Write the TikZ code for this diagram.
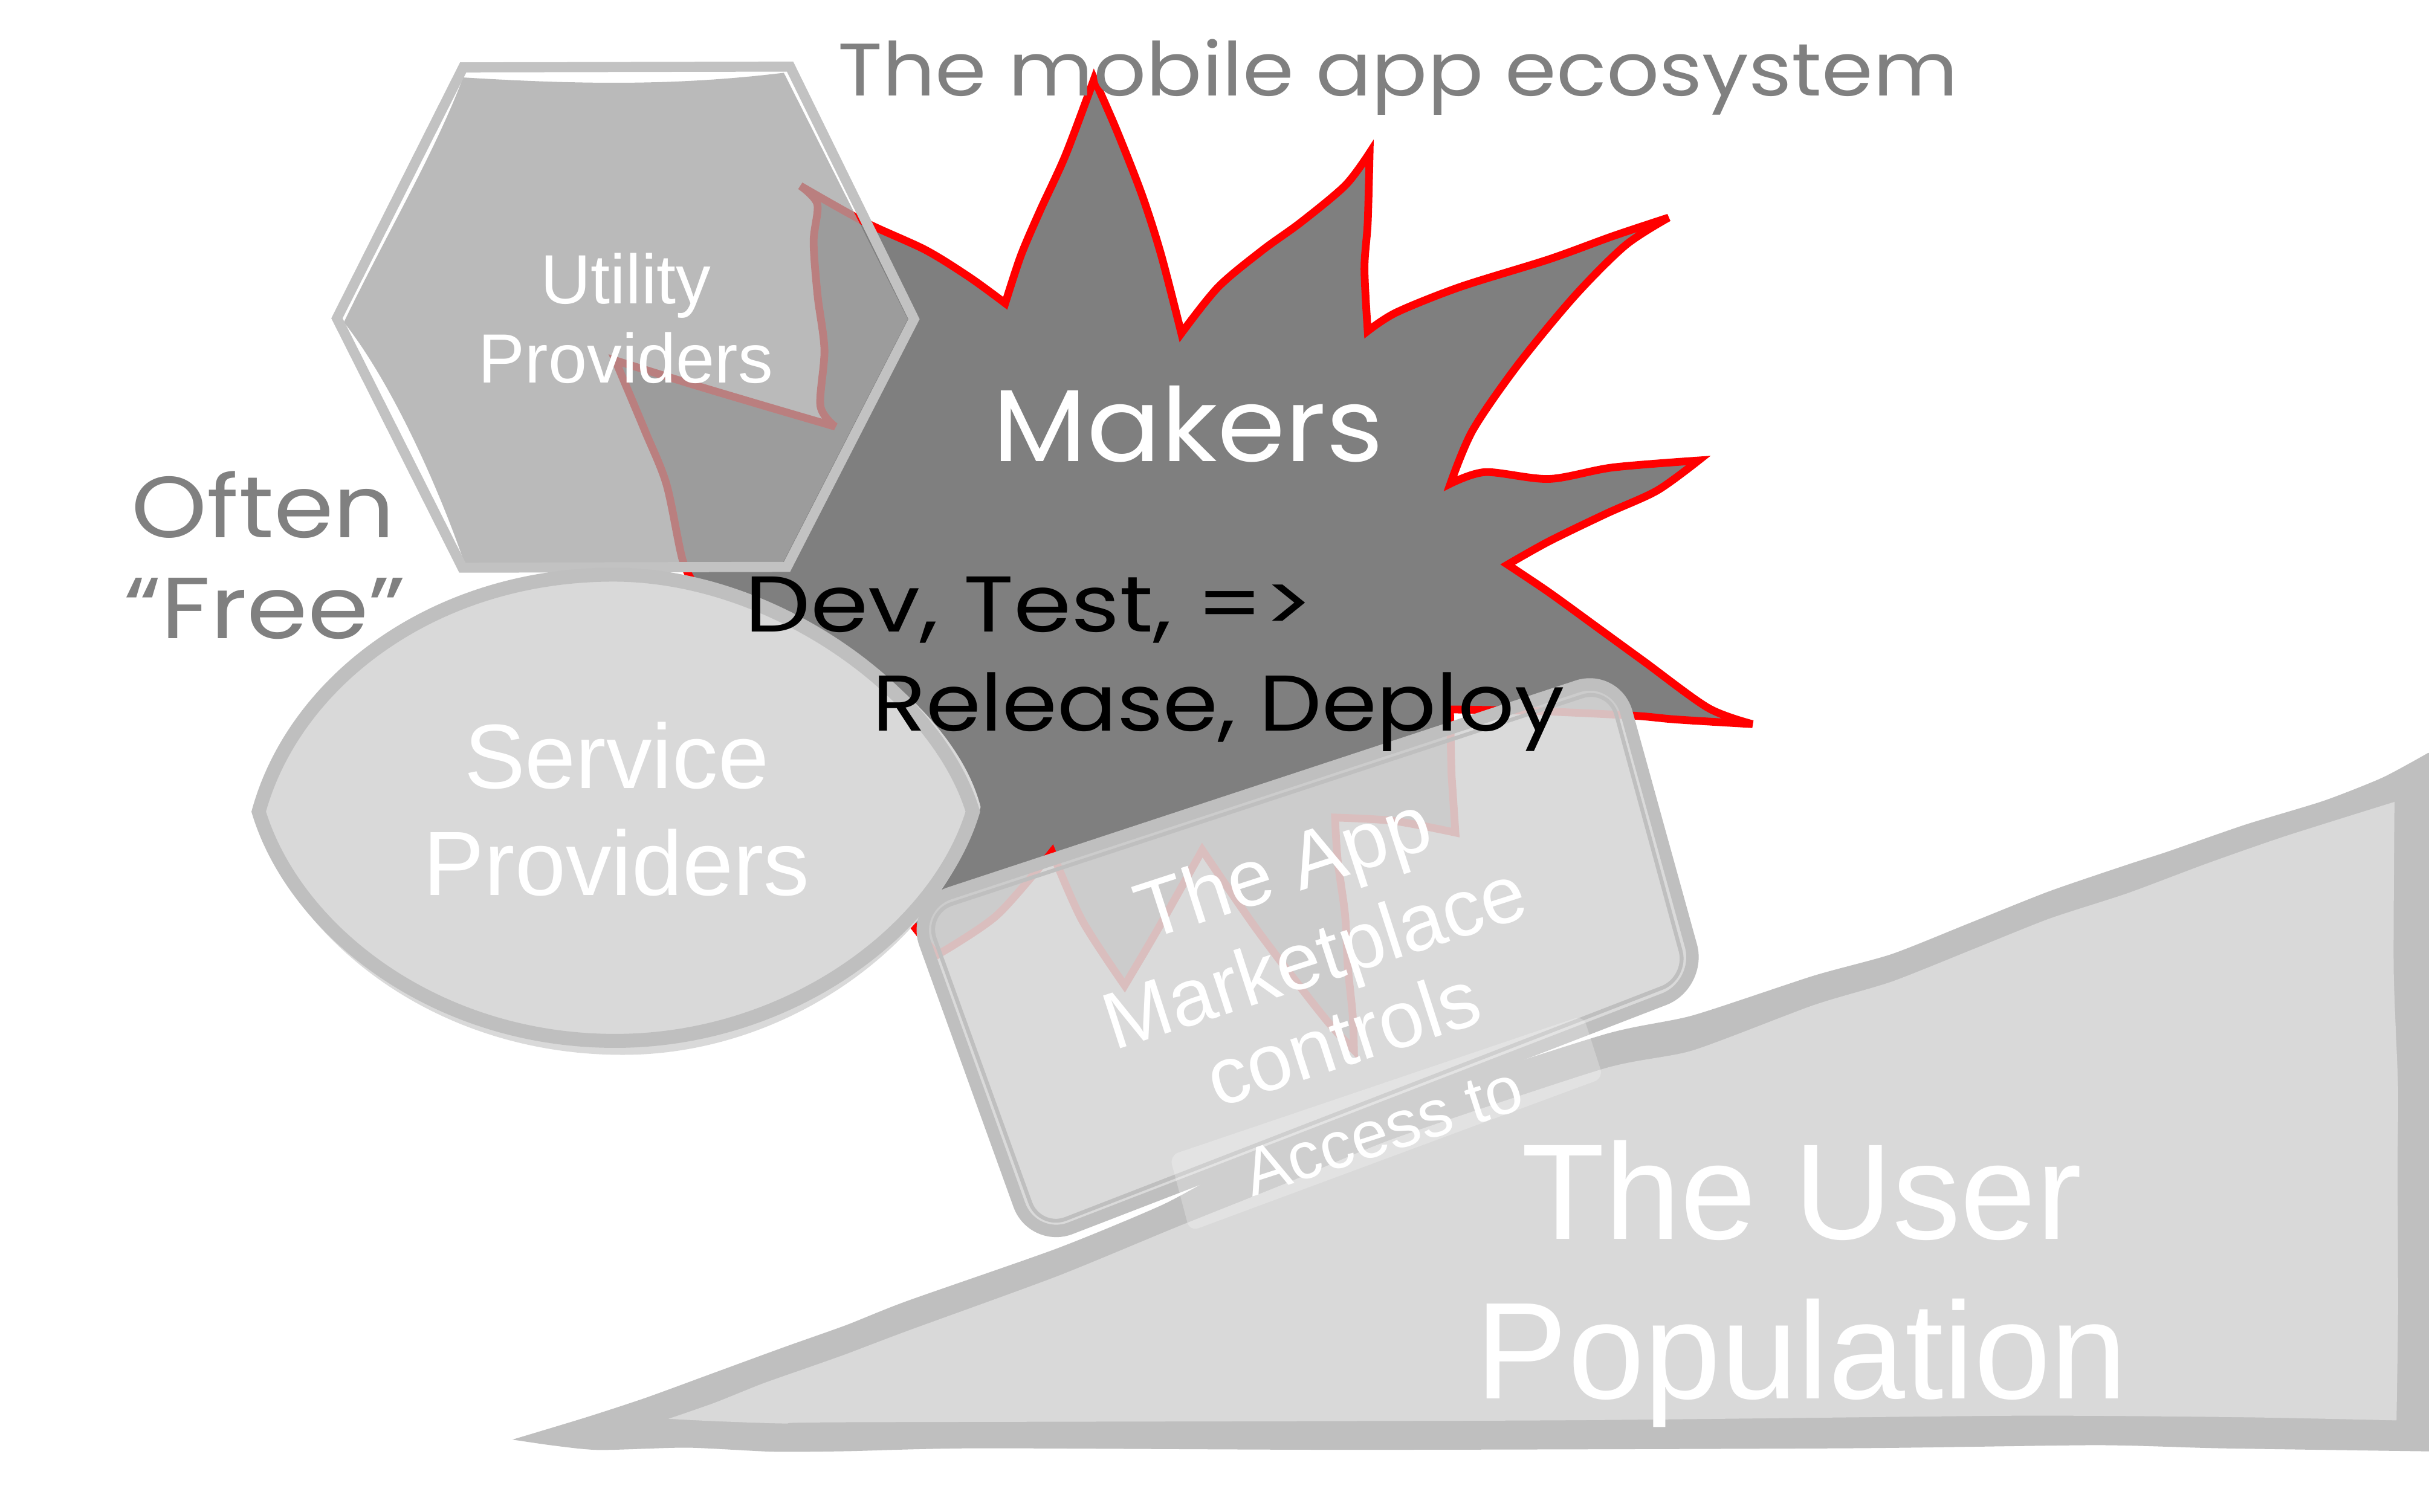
\documentclass[tikz,border=0pt]{standalone}
\usepackage{fontspec}
\usepackage{graphicx}
\setmainfont{Liberation Sans}
\newfontfamily\handfont{Poppins}
\definecolor{starfill}{HTML}{7F7F7F}
\definecolor{hexfill}{HTML}{A6A6A6}
\definecolor{hexline}{HTML}{C2C2C2}
\definecolor{softfill}{HTML}{D9D9D9}
\definecolor{softline}{HTML}{BFBFBF}
\definecolor{boxfill}{HTML}{D6D6D6}
\definecolor{inkgray}{HTML}{808080}
\tikzset{
  lbl/.style={inner sep=0pt, outer sep=0pt, anchor=base, text=white},
  handlbl/.style={inner sep=0pt, outer sep=0pt, anchor=base west},
  afs/.style={font=\fontsize{#1}{#1}\selectfont},
  hfs/.style={font=\handfont\fontsize{#1}{#1}\selectfont},
  wavy/.style={smooth, tension=0.5},
}
\begin{document}
\begin{tikzpicture}[x=1pt,y=-1pt]
\useasboundingbox (0,0) rectangle (1568,976);
\fill[white] (0,0) rectangle (1568,976);

% ---- user population wedge: outer band, then inner fill
\fill[softline] plot[smooth, tension=0.4] coordinates {(330.8,929.4) (377.8,915.2) (416.6,902.5) (461.4,886.1) (506.2,869.7) (546.2,855.5) (585.3,840) (682.3,806) (750,778) (800,752) (900,712) (1035,668) (1092.5,655.6) (1170.5,630) (1221,616) (1272,595.7) (1322.6,575.5) (1373.3,558.2) (1398.7,550) (1449.4,532.4) (1500,517) (1538,502) (1567.2,486.2)}
  -- (1580,484) -- (1580,940)
  -- plot[smooth, tension=0.4] coordinates {(1568,937) (1433,935) (1353,933) (1193,935) (873,936) (632,935) (546.2,936.9) (498.7,937.2) (443.5,934.6) (386.8,936.1) (356.9,933.2) (330.8,929.4)} -- cycle;
\fill[softfill] plot[smooth, tension=0.4] coordinates {(431.5,916) (461.4,905.6) (491.3,893.6) (521.1,883.1) (546.2,874.2) (585.3,859.4) (682.3,824) (760,792) (830,764) (900,735) (1035,690) (1092.5,678.2) (1170.5,649) (1221,633.8) (1272,613.5) (1322.6,593.2) (1373.3,576.7) (1424,557.7) (1474.7,540) (1545.7,517.7)}
  -- plot[smooth, tension=0.4] coordinates {(1545.7,517.7) (1545.2,626) (1548,702) (1547.7,753) (1548,846) (1547,917)}
  -- plot[smooth, tension=0.4] coordinates {(1547,917) (1450,915) (1300,914) (1000,917) (546.2,918.2) (506.2,919) (461.4,917.5) (431.5,916)} -- cycle;

% ---- makers burst
\filldraw[fill=starfill, draw=red, line width=5, miter limit=5]
  plot[wavy] coordinates {(516.7,120) (558.5,143.5) (597.5,161.4) (626.3,179.3) (648.9,195.8)}
  -- plot[wavy] coordinates {(648.9,195.8) (659,165) (671.4,136) (687.9,100) (706.3,50.9)}
  -- plot[wavy] coordinates {(706.3,50.9) (720.7,83.8) (737.1,125.6) (749.5,164.4) (762.6,215.2)}
  -- plot[wavy] coordinates {(762.6,215.2) (786.4,185.3) (815.1,161.4) (839.8,143.5) (868.5,119.6) (884.1,98.7)}
  -- plot[wavy] coordinates {(884.1,98.7) (882.9,143.5) (880.8,173.4) (882.9,213.7)}
  -- plot[wavy] coordinates {(882.9,213.7) (901.4,201.7) (942.4,185.3) (999.9,167.4) (1041,152.5) (1077.1,140.5)}
  -- plot[wavy] coordinates {(1077.1,140.5) (1049.2,158.4) (1016.3,191.3) (979.4,236.1) (950.6,277.9) (936.3,312.2)}
  -- plot[wavy] coordinates {(936.3,312.2) (958.9,304.8) (999.9,309.2) (1041,301.8) (1096.4,297.3)}
  -- plot[wavy] coordinates {(1096.4,297.3) (1069.7,316.7) (1036.9,331.6) (999.9,349.5) (973.2,364.5)}
  -- plot[wavy] coordinates {(973.2,364.5) (999.9,382.4) (1032.8,406.3) (1061.5,427.2) (1102.6,457.0) (1131.3,467.5)}
  -- plot[wavy] coordinates {(1131.3,467.5) (1082,464.5) (1054,462) (990,459) (936,458)}
  -- (937,500) -- (939.5,537.5)
  -- plot[wavy] coordinates {(939.5,537.5) (900,530) (861.8,527.8)}
  -- plot[wavy] coordinates {(861.8,527.8) (863.5,555.3) (868.3,590.9) (870,623.2) (873.2,655.6) (874,678)}
  -- plot[wavy] coordinates {(874,678) (853.8,655.6) (811.7,600.6) (776.1,548.8)}
  -- plot[wavy] coordinates {(776.1,548.8) (747,600.6) (726,636.2)}
  -- plot[wavy] coordinates {(726,636.2) (698.5,594.1) (679.1,550)}
  -- plot[wavy] coordinates {(679.1,550) (643.5,590.9) (604.7,616.7)}
  -- (560,560) -- (500,420) -- (450,380)
  -- plot[wavy] coordinates {(450,380) (440.7,361.7) (430.3,312.9) (416.3,278) (397.2,232.7)}
  -- plot[wavy] coordinates {(397.2,232.7) (447.7,248.4) (494.7,262.4) (539.1,275.4)}
  -- plot[wavy] coordinates {(539.1,275.4) (529.6,262) (532.2,225.8) (527.8,190.9) (525.2,156.1) (527.6,131.8) (516.7,120)} -- cycle;

% ---- title
\node[handlbl, hfs=48, text=inkgray] (title) at (541,62) {\resizebox{723pt}{\height}{The mobile app ecosystem}};

% ---- utility providers hexagon
\fill[hexfill, opacity=0.77] (299,50) .. controls (380,55) and (440,55) .. (506,47)
  -- (586,206) -- (505,364) -- (300,364)
  .. controls (285,320) and (255,250) .. (222,208)
  .. controls (250,150) and (280,100) .. cycle;
\draw[hexline, line width=6.5, line join=miter] (299,43.5) -- (510,43) -- (590,206) -- (508,366) -- (298.5,366.5) -- (217.5,205.5) -- cycle;

% ---- service providers lens
\fill[softfill] (163,522) .. controls (188,438) and (280,373) .. (398,373)
  .. controls (505,373) and (615,450) .. (633,521)
  .. controls (610,605) and (512,681) .. (402,681)
  .. controls (278,681) and (186,604) .. cycle;
\draw[softline, line width=9] (167,524) .. controls (190,440) and (280,371) .. (396,371)
  .. controls (500,371) and (605,448) .. (628,524)
  .. controls (605,600) and (510,672) .. (397,672)
  .. controls (280,672) and (190,600) .. cycle;

% ---- app marketplace panel
\fill[boxfill, opacity=0.89, rounded corners=26] (588.4,584.8) -- (1043,435) -- (1098.5,635.7) -- (666.8,802.3) -- cycle;
\draw[softline, line width=8, rounded corners=26] (588.4,584.8) -- (1043,435) -- (1098.5,635.7) -- (666.8,802.3) -- cycle;
\draw[softline, line width=2.5, rounded corners=18] (597.3,589.2) -- (1038.6,443.9) -- (1089.6,631.3) -- (671.2,793.4) -- cycle;

% translucent strip behind the last line
\fill[white, opacity=0.25, rounded corners=6] (755,746) -- (1022,655.6) -- (1035,696) -- (768,795) -- cycle;

% ---- labels
\node[lbl, afs=45] (util1) at (404,196) {Utility};
\node[lbl, afs=45] (util2) at (404,247) {Providers};
\node[lbl, afs=59] (serv1) at (398,509) {Service};
\node[lbl, afs=59] (serv2) at (398,578) {Providers};
\node[lbl, afs=88] (user1) at (1163,800) {The User};
\node[lbl, afs=89] (user2) at (1163,903) {Population};
\node[lbl, afs=52, rotate=18] (mkt1) at (833.8,576.9) {The App};
\node[lbl, afs=52, rotate=18] (mkt2) at (854.1,634.5) {Marketplace};
\node[lbl, afs=52, rotate=18] (mkt3) at (872.4,687.3) {controls};
\node[lbl, afs=43, rotate=18] (mkt4) at (897.3,743.9) {Access to};

\node[handlbl, hfs=66, text=white] (makers) at (641,298) {\resizebox{252pt}{\height}{Makers}};
\node[handlbl, hfs=56, text=inkgray] (often) at (85,347) {\resizebox{170pt}{\height}{Often}};
\node[handlbl, hfs=56, text=inkgray] (free) at (80,412) {\resizebox{182pt}{\height}{“Free”}};
\node[handlbl, hfs=51, text=black] (dev) at (481,408) {\resizebox{367pt}{\height}{Dev, Test, =>}};
\node[handlbl, hfs=51, text=black] (rel) at (563,472) {\resizebox{447pt}{\height}{Release, Deploy}};
\end{tikzpicture}
\end{document}
